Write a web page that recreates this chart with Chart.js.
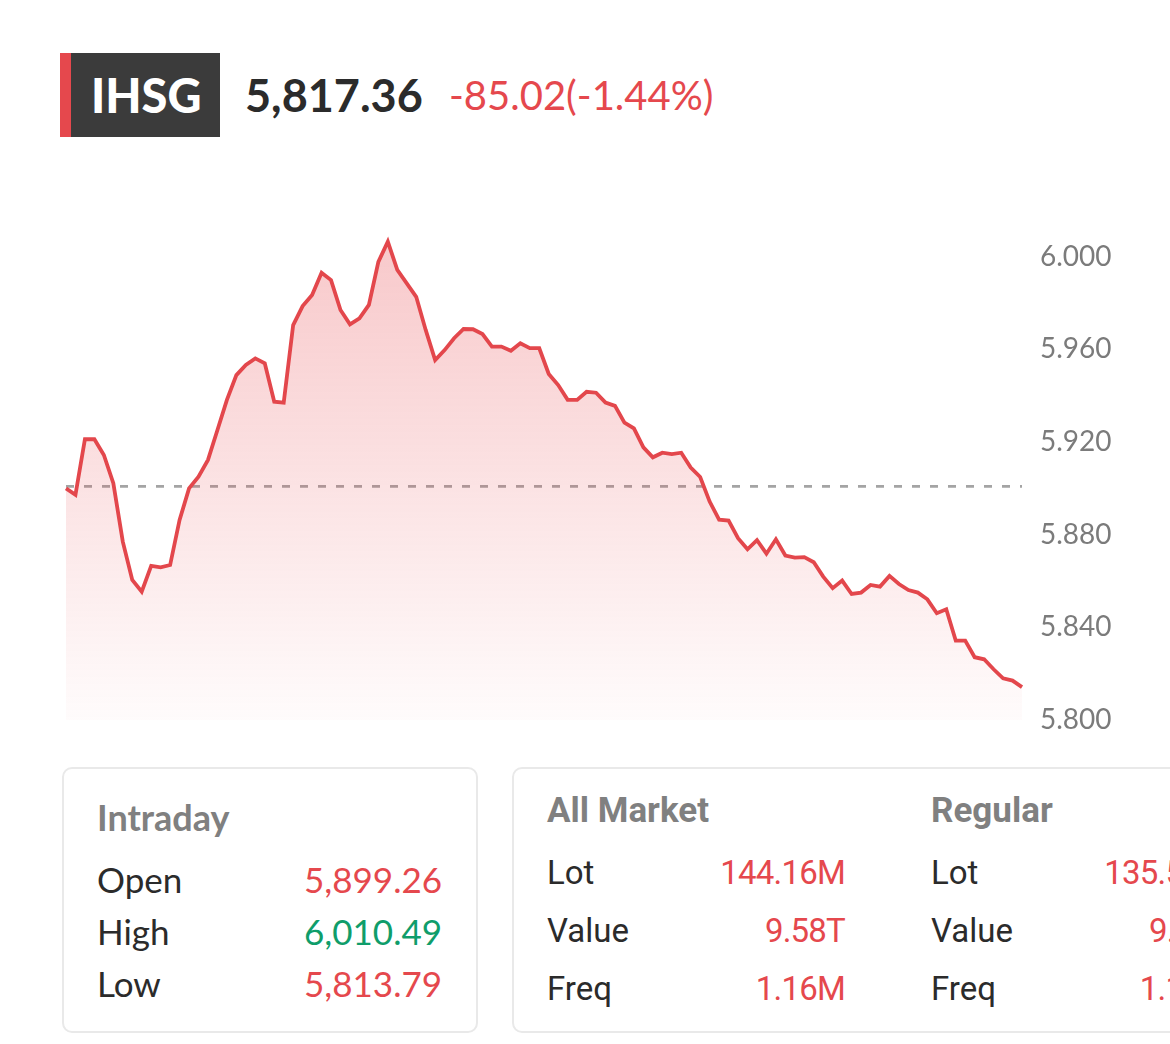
<!DOCTYPE html>
<html>
<head>
<meta charset="utf-8">
<script src="https://cdn.jsdelivr.net/npm/chart.js@4.4.1/dist/chart.umd.min.js"></script>
<style>
  html, body { margin: 0; padding: 0; background: #fff; }
  body { width: 1170px; height: 1044px; position: relative; overflow: hidden; font-family: Lato, "Open Sans", sans-serif; }
  .tag { position: absolute; left: 60px; top: 53px; width: 160px; height: 84px; background: #3b3b3b; }
  .tag:before { content: ''; position: absolute; left: 0; top: 0; width: 11px; height: 100%; background: #e5484d; }
  .tag span { position: absolute; left: 31px; top: 0; line-height: 84px; color: #fff; font-weight: 900; font-size: 47px; }
  .last { position: absolute; left: 245px; top: 53px; line-height: 84px; font-size: 45px; font-weight: bold; color: #2b2b2b; }
  .chg { position: absolute; left: 449px; top: 53px; line-height: 84px; font-size: 40px; color: #e5484d; }
  #wrap { position: absolute; left: 0; top: 170px; width: 1170px; height: 590px; }
  #myChart { display: block; width: 1170px; height: 590px; }
  .card { position: absolute; top: 767px; height: 266px; border: 2px solid #e9e9e9; border-radius: 10px; box-sizing: border-box; background: #fff; }
  .t { position: absolute; line-height: 40px; white-space: nowrap; }
  .intra .t { font-family: Lato, sans-serif; font-size: 35px; }
  .intra .head { font-size: 36px; }
  .mkt .t { font-family: Roboto, sans-serif; font-size: 33px; }
  .mkt .head { font-size: 35px; }
  .mkt .red { letter-spacing: -0.8px; }
  .head { color: #808080; font-weight: bold; }
  .lbl { color: #2b2b2b; }
  .red { color: #e5484d; }
  .green { color: #0f9d6a; }
</style>
</head>
<body>
<div class="tag"><span>IHSG</span></div>
<div class="last">5,817.36</div>
<div class="chg">-85.02(-1.44%)</div>
<div id="wrap"><canvas id="myChart" width="1170" height="590"></canvas></div>
<div class="card intra" id="intra" style="left:62px; width:416px;"></div>
<div class="card mkt" id="mkt" style="left:512px; width:740px;"></div>
<script>
// intraday index level, one value per slot
var values = [
  5900.0, 5897.2, 5921.2, 5921.2, 5914.4, 5902.2, 5877.0, 5860.5, 5855.4, 5866.5,
  5865.9, 5866.9, 5886.4, 5900.0, 5905.0, 5912.3, 5925.2, 5938.2, 5948.9, 5953.3,
  5956.1, 5954.0, 5937.4, 5937.0, 5970.5, 5978.7, 5983.5, 5993.1, 5989.9, 5977.0,
  5970.8, 5973.4, 5979.2, 5997.8, 6006.5, 5994.3, 5988.5, 5982.7, 5968.4, 5955.4,
  5959.7, 5964.8, 5968.8, 5968.7, 5966.6, 5961.2, 5961.2, 5959.4, 5962.6, 5960.5,
  5960.5, 5949.4, 5944.6, 5938.2, 5938.2, 5941.7, 5941.3, 5937.0, 5935.6, 5928.4,
  5925.9, 5917.7, 5913.4, 5915.4, 5914.8, 5915.4, 5909.0, 5904.9, 5894.3, 5886.5,
  5886.1, 5878.5, 5873.7, 5877.6, 5871.8, 5878.0, 5871.0, 5870.1, 5870.3, 5868.1,
  5861.9, 5856.9, 5860.2, 5854.4, 5855.0, 5858.3, 5857.6, 5862.2, 5858.7, 5856.1,
  5855.0, 5852.1, 5846.1, 5847.8, 5834.3, 5834.3, 5827.1, 5826.2, 5821.9, 5818.0,
  5817.0, 5814.2
];
var slots = values.map(function (v, i) { return i; });
var prevClose = 5900.9;

var yTicks = [5800, 5840, 5880, 5920, 5960, 6000];
var yTickLabels = ['5.800', '5.840', '5.880', '5.920', '5.960', '6.000'];

var intradayLabels = ['Open', 'High', 'Low'];
var intradayValues = ['5,899.26', '6,010.49', '5,813.79'];
var intradayColors = ['red', 'green', 'red'];

var marketLabels = ['Lot', 'Value', 'Freq'];
var allMarketValues = ['144.16M', '9.58T', '1.16M'];
var regularValues = ['135.52M', '9.13T', '1.12M'];

function addText(box, cls, text, left, centerY, right) {
  var d = document.createElement('div');
  d.className = 't ' + cls;
  d.textContent = text;
  d.style.top = (centerY - 20) + 'px';
  if (right !== undefined) { d.style.right = right + 'px'; } else { d.style.left = left + 'px'; }
  box.appendChild(d);
}

// Intraday card (coords relative to card inner box)
var intra = document.getElementById('intra');
addText(intra, 'head', 'Intraday', 33, 48);
for (var i = 0; i < intradayLabels.length; i++) {
  addText(intra, 'lbl', intradayLabels[i], 33, 110 + i * 52);
  addText(intra, intradayColors[i], intradayValues[i], 0, 110 + i * 52, 34);
}

// Market card: two column groups
var mkt = document.getElementById('mkt');
function marketColumn(title, vals, left) {
  addText(mkt, 'head', title, left, 42);
  for (var i = 0; i < marketLabels.length; i++) {
    addText(mkt, 'lbl', marketLabels[i], left, 104 + i * 58);
    var d = document.createElement('div');
    d.className = 't red';
    d.textContent = vals[i];
    d.style.top = (104 + i * 58 - 20) + 'px';
    d.style.left = (left + 298) + 'px';
    d.style.transform = 'translateX(-100%)';
    mkt.appendChild(d);
  }
}
marketColumn('All Market', allMarketValues, 33);
marketColumn('Regular', regularValues, 417);

var prevCloseLine = {
  id: 'prevCloseLine',
  beforeDatasetsDraw: function (chart) {
    var ctx = chart.ctx, area = chart.chartArea;
    var y = chart.scales.y.getPixelForValue(prevClose);
    ctx.save();
    ctx.strokeStyle = '#a4a4a4';
    ctx.lineWidth = 2.8;
    ctx.setLineDash([8, 10]);
    ctx.beginPath();
    ctx.moveTo(area.left, y);
    ctx.lineTo(area.right, y);
    ctx.stroke();
    ctx.restore();
  }
};

var config = {
  type: 'line',
  data: {
    labels: slots,
    datasets: [{
      label: 'IHSG',
      data: values,
      borderColor: '#e3474c',
      borderWidth: 3.8,
      pointRadius: 0,
      tension: 0,
      fill: 'start',
      backgroundColor: function (context) {
        var chart = context.chart, a = chart.chartArea;
        if (!a) { return 'rgba(232,76,82,0.15)'; }
        var g = chart.ctx.createLinearGradient(0, a.top, 0, a.bottom);
        g.addColorStop(0, 'rgba(232,76,82,0.32)');
        g.addColorStop(1, 'rgba(232,76,82,0.02)');
        return g;
      }
    }]
  },
  options: {
    responsive: false,
    animation: false,
    devicePixelRatio: 1,
    // paddings larger than the axis label overflow so the plot area lands exactly
    layout: { padding: { left: 66, right: 0, top: 40.4, bottom: 40 } },
    plugins: { legend: { display: false }, tooltip: { enabled: false } },
    scales: {
      x: { display: false },
      y: {
        position: 'right',
        min: 5800,
        max: 6020,
        grid: { display: false, drawTicks: false },
        border: { display: false },
        afterBuildTicks: function (scale) {
          scale.ticks = yTicks.map(function (v) { return { value: v }; });
        },
        afterFit: function (scale) { scale.width = 148; },
        ticks: {
          padding: 18,
          color: '#7b7b7b',
          font: { family: 'Lato', size: 28 },
          callback: function (v) { return yTickLabels[yTicks.indexOf(v)]; }
        }
      }
    }
  },
  plugins: [prevCloseLine]
};

var myChart = new Chart(document.getElementById('myChart'), config);
</script>
</body>
</html>
